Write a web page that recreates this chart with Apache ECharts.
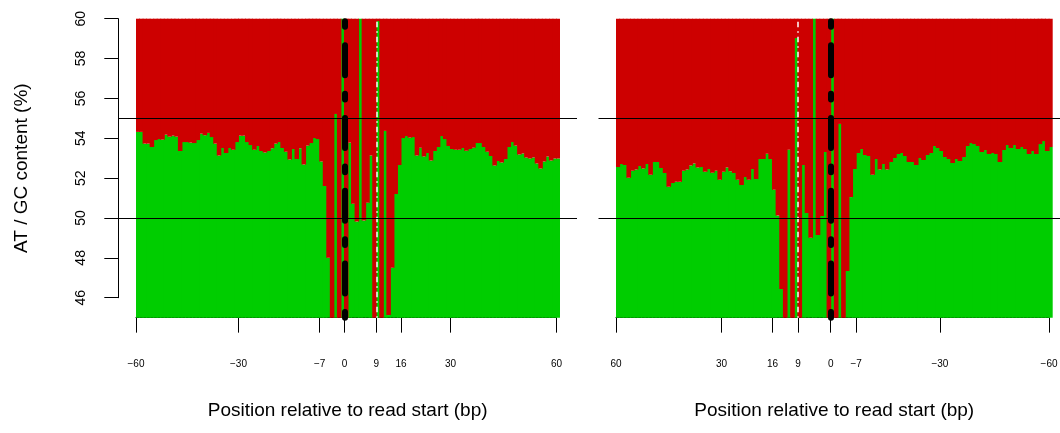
<!DOCTYPE html>
<html>
<head>
<meta charset="utf-8">
<script src="https://cdn.jsdelivr.net/npm/echarts@6.0.0/dist/echarts.min.js"></script>
<style>
  html, body { margin: 0; padding: 0; background: #ffffff; }
  #chart { width: 1060px; height: 433px; }
</style>
</head>
<body>
<div id="chart"></div>
<script>
// AT content (%) per position bar, drawn left to right
const atLeft = [
  54.32, 54.32, 53.73, 53.73, 53.56, 53.91, 53.96, 53.93, 54.18, 54.08,
  54.13, 54.08, 53.36, 53.81, 53.81, 53.78, 53.76, 53.91, 54.23, 54.15,
  54.27, 54.06, 53.73, 53.13, 53.51, 53.26, 53.51, 53.43, 53.81, 54.13,
  54.13, 53.81, 53.66, 53.43, 53.61, 53.36, 53.29, 53.36, 53.50, 53.73,
  53.81, 53.51, 53.33, 52.93, 53.46, 52.96, 53.50, 52.68, 53.63, 53.76,
  54.01, 53.96, 52.83, 51.61, 48.01, 44.20, 55.22, 44.40, 62.00, 44.30,
  53.78, 50.72, 49.82, 61.50, 49.87, 50.77, 53.13, 44.60, 59.88, 44.50,
  54.37, 45.13, 47.51, 51.21, 52.66, 54.01, 54.11, 54.03, 54.06, 53.13,
  53.52, 53.08, 53.26, 52.88, 53.36, 53.56, 54.11, 53.96, 53.61, 53.46,
  53.43, 53.43, 53.51, 53.38, 53.46, 53.53, 53.76, 53.76, 53.56, 53.33,
  53.11, 52.63, 52.86, 52.78, 52.96, 53.56, 53.81, 53.63, 53.18, 53.24,
  53.03, 52.98, 53.03, 52.74, 52.48, 52.83, 53.08, 52.88, 52.98, 52.98
];
const atRight = [
  52.56, 52.71, 52.66, 52.02, 52.37, 52.43, 52.61, 52.48, 52.71, 52.17,
  52.81, 52.81, 52.51, 52.26, 51.57, 51.76, 51.82, 51.82, 52.37, 52.43,
  52.63, 52.73, 52.53, 52.56, 52.32, 52.46, 52.27, 52.37, 51.92, 52.32,
  52.53, 52.34, 52.26, 51.92, 51.66, 52.06, 51.92, 52.46, 51.96, 52.96,
  52.96, 53.23, 52.96, 51.42, 50.12, 46.44, 44.30, 53.42, 44.50, 59.03,
  44.40, 52.66, 50.25, 49.01, 61.80, 49.15, 50.10, 53.31, 44.20, 62.30,
  44.60, 54.72, 44.40, 47.34, 51.05, 52.46, 53.26, 53.46, 53.16, 53.11,
  52.17, 52.96, 52.43, 52.71, 52.43, 52.81, 53.01, 53.21, 53.26, 53.11,
  52.81, 52.81, 52.66, 53.01, 52.91, 53.16, 53.26, 53.61, 53.51, 53.36,
  53.06, 52.96, 52.76, 52.96, 52.86, 53.06, 53.61, 53.76, 53.71, 53.61,
  53.31, 53.41, 53.21, 53.26, 53.21, 52.81, 53.41, 53.66, 53.51, 53.66,
  53.46, 53.56, 53.46, 53.21, 53.36, 53.21, 53.71, 53.86, 53.36, 53.56
];

// x-axis ticks: bar-boundary index and the position text shown there
const tickIdxLeft = [0, 29, 52, 59, 68, 75, 89, 119];
const tickTxtLeft = ['\u221260', '\u221230', '\u22127', '0', '9', '16', '30', '60'];
const tickIdxRight = [0, 29, 43, 50, 59, 66, 89, 119];
const tickTxtRight = ['60', '30', '16', '9', '0', '\u22127', '\u221230', '\u221260'];

// marked boundaries: read start (0) and the +9 site
const readStartIdx = [59, 59];
const siteIdx = [68, 50];

// horizontal reference levels (%)
const refLevels = [55, 50];

const yTitle = 'AT / GC content (%)';
const xTitle = 'Position relative to read start (bp)';

// ---- drawing ----
const GREEN = '#00CD00', RED = '#CD0000';
const FONT = "'Liberation Sans', Arial, Helvetica, sans-serif";
const TOP = 18.7, UNIT = 19.93;          // px per percent
const Y_MIN = 45, Y_MAX = 60;

const panels = [
  { at: atLeft,  ticks: tickIdxLeft,  texts: tickTxtLeft,  barLeft: 136, barsWidth: 424,   frameLeft: 118.3, frameRight: 577,  yAxis: true },
  { at: atRight, ticks: tickIdxRight, texts: tickTxtRight, barLeft: 616, barsWidth: 436.7, frameLeft: 598.5, frameRight: 1070, yAxis: false }
];

const grids = [], xAxes = [], yAxes = [], series = [];
const hidden = { show: false };

panels.forEach((pn, p) => {
  const n = pn.at.length;
  const step = pn.barsWidth / n;
  const cats = pn.at.map((_, i) => String(i));
  // neighbouring bars overlap slightly so no hairline seams show between them
  const barPx = step + 1;

  // bars
  const gB = grids.length;
  grids.push({ left: pn.barLeft, top: TOP, width: pn.barsWidth, height: (Y_MAX - Y_MIN) * UNIT, outerBoundsMode: 'none', containLabel: false });
  xAxes.push({ gridIndex: gB, type: 'category', data: cats, boundaryGap: true, show: false });
  yAxes.push({
    gridIndex: gB, type: 'value', min: Y_MIN, max: Y_MAX, show: pn.yAxis,
    axisLine: hidden, axisTick: hidden, axisLabel: hidden, splitLine: hidden,
    name: pn.yAxis ? yTitle : '', nameLocation: 'middle', nameRotate: 90, nameGap: 104.8,
    nameMoveOverlap: false,
    nameTextStyle: { color: '#000', fontFamily: FONT, fontSize: 19 }
  });
  series.push({
    type: 'bar', xAxisIndex: gB, yAxisIndex: gB, stack: 'panel' + p, barWidth: barPx,
    data: pn.at, z: 2, silent: true,
    itemStyle: { color: GREEN }
  });
  series.push({
    type: 'bar', xAxisIndex: gB, yAxisIndex: gB, stack: 'panel' + p, barWidth: barPx,
    data: pn.at.map(v => 100 - v), z: 2, silent: true,
    itemStyle: { color: RED }
  });

  // position axis + vertical markers
  const gO = grids.length;
  const lastIdx = n - 1;
  grids.push({ left: pn.barLeft, top: TOP, width: lastIdx * step, height: (Y_MAX - Y_MIN) * UNIT, outerBoundsMode: 'none', containLabel: false });
  xAxes.push({
    gridIndex: gO, type: 'value', min: 0, max: lastIdx,
    axisLine: { show: true, lineStyle: { color: '#000', width: 1 } },
    axisTick: { show: true, customValues: pn.ticks, length: 15, inside: false, lineStyle: { color: '#000', width: 1 } },
    axisLabel: {
      show: true, customValues: pn.ticks, margin: 42, color: '#000', fontFamily: FONT, fontSize: 10,
      formatter: v => pn.texts[pn.ticks.indexOf(v)]
    },
    splitLine: hidden
  });
  yAxes.push({ gridIndex: gO, type: 'value', min: Y_MIN, max: Y_MAX, show: false });
  series.push({
    type: 'line', xAxisIndex: gO, yAxisIndex: gO, data: [], z: 4, silent: true,
    markLine: {
      silent: true, symbol: ['none', 'none'], label: { show: false }, animation: false,
      emphasis: { disabled: true },
      data: [
        { xAxis: readStartIdx[p], lineStyle: { color: '#000', width: 6, type: [5.7, 18.5, 30, 18.5], dashOffset: 0, cap: 'round' } },
        { xAxis: siteIdx[p], lineStyle: { color: '#ffffff', width: 1.5, type: [1.5, 4, 5.5, 4], cap: 'butt' } }
      ]
    }
  });

  // frame: y scale, reference levels, x title
  const gF = grids.length;
  grids.push({ left: pn.frameLeft, top: TOP, width: pn.frameRight - pn.frameLeft, height: (Y_MAX - 46) * UNIT, outerBoundsMode: 'none', containLabel: false });
  xAxes.push({
    gridIndex: gF, type: 'value', min: 0, max: 1, show: true,
    axisLine: hidden, axisTick: hidden, axisLabel: hidden, splitLine: hidden,
    name: xTitle, nameLocation: 'middle', nameGap: 103.8, nameMoveOverlap: false,
    nameTextStyle: { color: '#000', fontFamily: FONT, fontSize: 19 }
  });
  yAxes.push({
    gridIndex: gF, type: 'value', min: 46, max: Y_MAX, interval: 2, show: pn.yAxis,
    axisLine: { show: true, lineStyle: { color: '#000', width: 1 } },
    axisTick: { show: true, length: 14, inside: false, lineStyle: { color: '#000', width: 1 } },
    axisLabel: { show: true, rotate: 90, margin: 30, color: '#000', fontFamily: FONT, fontSize: 14 },
    splitLine: hidden
  });
  series.push({
    type: 'line', xAxisIndex: gF, yAxisIndex: gF, data: [], z: 3, silent: true,
    markLine: {
      silent: true, symbol: ['none', 'none'], label: { show: false }, animation: false,
      emphasis: { disabled: true },
      lineStyle: { color: '#000', width: 1, type: 'solid' },
      data: refLevels.map(v => ({ yAxis: v }))
    }
  });
});

const chart = echarts.init(document.getElementById('chart'), null, { renderer: 'canvas' });
chart.setOption({
  backgroundColor: '#ffffff',
  animation: false,
  grid: grids,
  xAxis: xAxes,
  yAxis: yAxes,
  series: series
});
</script>
</body>
</html>
